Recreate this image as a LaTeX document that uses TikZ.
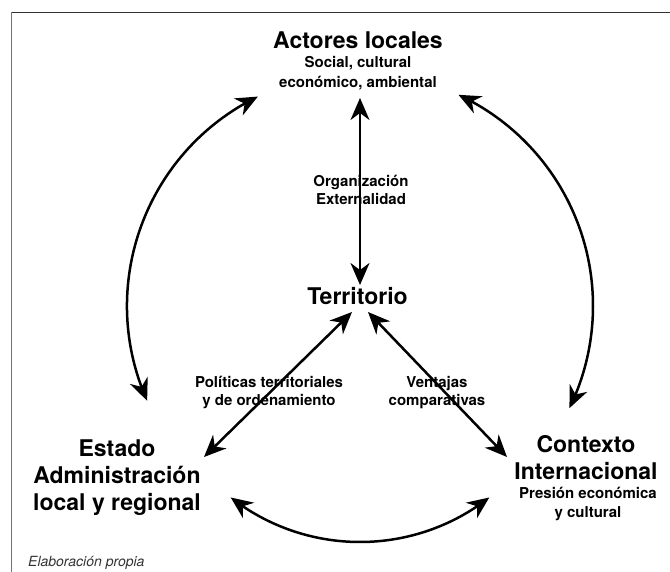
\documentclass[tikz,border=0pt]{standalone}
\usepackage{fontspec}
\setmainfont{TeX Gyre Heros}
\usetikzlibrary{arrows.meta,bending}
\begin{document}
\begin{tikzpicture}[x=1pt,y=-1pt,
  big/.style={font=\fontsize{23}{27}\selectfont\bfseries, inner sep=0pt, anchor=base},
  small/.style={font=\fontsize{15}{18}\selectfont\bfseries, inner sep=0pt, anchor=base},
  tip/.tip={Stealth[length=22pt,width=19pt,inset=7pt]},
  link/.style={line width=2.5pt, {tip}-{tip}},
]
\useasboundingbox (0,0) rectangle (670,572);
\fill[white] (0,0) rectangle (670,572);
% frame
\draw[line width=1.3pt, black!80] (11,12.5) -- (670,12.5);
\draw[line width=1pt, black!55] (11.5,12) -- (11.5,572);

% texts
\node[big] (act) at (358,48.3) {Actores locales};
\node[small] (act2) at (358,67.7) {Social, cultural};
\node[small] (act3) at (358,88) {económico, ambiental};

\node[small] (org) at (361,186.7) {Organización};
\node[small] (ext) at (361,204.3) {Externalidad};

\node[big] (ter) at (357.5,304.3) {Territorio};

\node[small] (pol1) at (269,387.7) {Políticas territoriales};
\node[small] (pol2) at (269,405.7) {y de ordenamiento};
\node[small] (ven1) at (437,387.7) {Ventajas};
\node[small] (ven2) at (437,405.7) {comparativas};

\node[big] (est1) at (117,456) {Estado};
\node[big] (est2) at (117,483) {Administración};
\node[big] (est3) at (117,510) {local y regional};

\node[big] (ctx1) at (586,452) {Contexto};
\node[big] (ctx2) at (586,479) {Internacional};
\node[small] (ctx3) at (588,498) {Presión económica};
\node[small] (ctx4) at (588,517) {y cultural};

\node[font=\fontsize{14}{16}\selectfont\itshape, text=black!80, inner sep=0pt, anchor=base west] (elab) at (28,566.5) {Elaboración propia};

% connectors
\coordinate (vt) at (360,98);
\coordinate (vb) at (360,285);
\draw[link] (vt) -- (vb);

\coordinate (dl1) at (352,312);
\coordinate (dl2) at (204,457);
\coordinate (dr1) at (368,312);
\coordinate (dr2) at (507,457);
\draw[link] (dl1) -- (dl2);
\draw[link] (dr1) -- (dr2);

\coordinate (hub) at (360,306);
\draw[link] (hub) ++(-116:233) arc[start angle=-116, end angle=-204, radius=233];
\draw[link] (hub) ++(-65:233) arc[start angle=-65, end angle=26, radius=233];
\coordinate (hubb) at (360,332);
\draw[link] (hubb) ++(128:210) arc[start angle=128, end angle=52, radius=210];
\end{tikzpicture}
\end{document}
